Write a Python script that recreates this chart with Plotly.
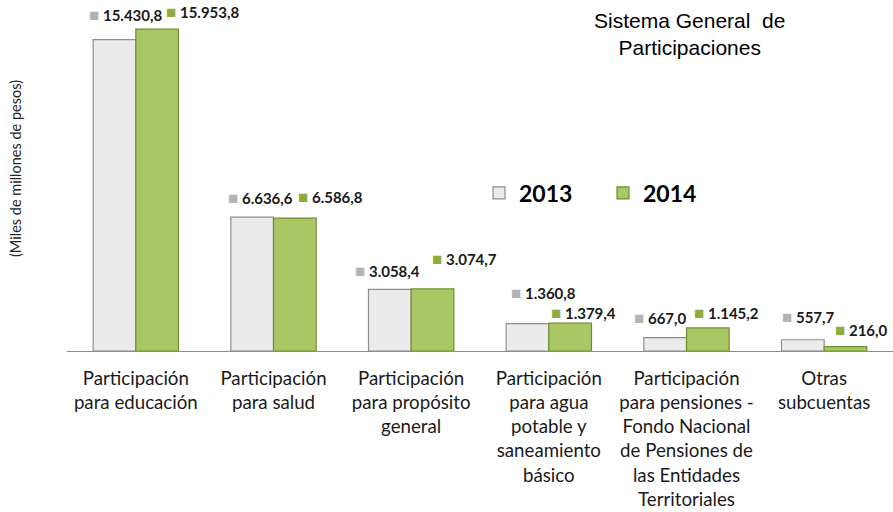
import plotly.graph_objects as go

categories = [
    "Participación<br>para educación",
    "Participación<br>para salud",
    "Participación<br>para propósito<br>general",
    "Participación<br>para agua<br>potable y<br>saneamiento<br>básico",
    "Participación<br>para pensiones -<br>Fondo Nacional<br>de Pensiones de<br>las Entidades<br>Territoriales",
    "Otras<br>subcuentas",
]
values_2013 = [15430.8, 6636.6, 3058.4, 1360.8, 667.0, 557.7]
values_2014 = [15953.8, 6586.8, 3074.7, 1379.4, 1145.2, 216.0]
labels_2013 = ["15.430,8", "6.636,6", "3.058,4", "1.360,8", "667,0", "557,7"]
labels_2014 = ["15.953,8", "6.586,8", "3.074,7", "1.379,4", "1.145,2", "216,0"]

# label placement (pixels, relative to category centre / bar top)
x_off_2013 = [-49, -48, -58, -40, -55, -44]
x_off_2014 = [28, 22, 19, 0, 5, 9]
y_off_2013 = [25, 20, 19, 31, 20, 23]
y_off_2014 = [18, 22, 30, 11, 15, 17]

GRAY_FILL = "#ebebeb"
GRAY_LINE = "#8e8e8e"
GREEN_FILL = "#aac765"
GREEN_LINE = "#6f8f2f"

W, H = 893, 512
PLOT_L, PLOT_R, PLOT_T, PLOT_B = 67, 893, 0, 351
PLOT_W = PLOT_R - PLOT_L
PLOT_H = PLOT_B - PLOT_T
UNITS_PER_PX = 49.55


def px_x(px):
    return (px - PLOT_L) / PLOT_W


def px_y(py):
    return (PLOT_B - py) / PLOT_H


fig = go.Figure()
fig.add_trace(go.Bar(
    x=categories, y=values_2013, name="2013",
    marker=dict(color=GRAY_FILL, line=dict(color=GRAY_LINE, width=1.2)),
))
fig.add_trace(go.Bar(
    x=categories, y=values_2014, name="2014",
    marker=dict(color=GREEN_FILL, line=dict(color=GREEN_LINE, width=1.2)),
))

label_font = dict(family="Lato", size=15, color="#1a1a1a", weight="bold")
anns = []
for i, c in enumerate(categories):
    anns.append(dict(
        x=c, y=values_2013[i], xref="x", yref="y",
        text="<span style='color:#b3b3b3;font-size:17px'>■</span> " + labels_2013[i],
        showarrow=False, xanchor="left", yanchor="middle",
        xshift=x_off_2013[i], yshift=y_off_2013[i], font=label_font,
    ))
    anns.append(dict(
        x=c, y=values_2014[i], xref="x", yref="y",
        text="<span style='color:#8cae3e;font-size:17px'>■</span> " + labels_2014[i],
        showarrow=False, xanchor="left", yanchor="middle",
        xshift=x_off_2014[i], yshift=y_off_2014[i], font=label_font,
    ))

anns.append(dict(
    x=px_x(689), y=px_y(34), xref="paper", yref="paper",
    text="Sistema General  de<br>Participaciones",
    showarrow=False, xanchor="center", yanchor="middle",
    font=dict(family="Liberation Sans", size=21, color="#000000"),
))
anns.append(dict(
    x=px_x(15), y=px_y(169), xref="paper", yref="paper",
    text="(Miles de millones de pesos)", textangle=-90,
    showarrow=False, xanchor="center", yanchor="middle",
    font=dict(family="Lato", size=14.5, color="#262626"),
))

fig.update_layout(
    width=W, height=H,
    margin=dict(l=PLOT_L, r=W - PLOT_R, t=PLOT_T, b=H - PLOT_B, pad=0),
    paper_bgcolor="white", plot_bgcolor="white",
    barmode="group", bargap=0.38, bargroupgap=0,
    annotations=anns,
    showlegend=True,
    legend=dict(
        orientation="h", x=px_x(479), y=px_y(193),
        xanchor="left", yanchor="middle",
        font=dict(family="Lato", size=23, color="#000000", weight="bold"),
        entrywidth=79, entrywidthmode="pixels",
        itemwidth=30, bgcolor="rgba(0,0,0,0)",
    ),
    xaxis=dict(
        showline=True, linecolor="#8c8c8c", linewidth=1.2,
        ticks="", tickfont=dict(family="Lato", size=18.7, color="#1a1a1a"),
        ticklabelstandoff=10,
        showgrid=False, automargin=False,
    ),
    yaxis=dict(
        range=[0, PLOT_H * UNITS_PER_PX], showgrid=False, showticklabels=False,
        zeroline=False, showline=False, ticks="", automargin=False,
    ),
)

# the page's default 8px body margin would shift and clip the figure
fig.write_html(
    "out.html",
    config={"displayModeBar": False},
    post_script="document.body.style.margin='0';document.body.style.overflow='hidden';",
)
